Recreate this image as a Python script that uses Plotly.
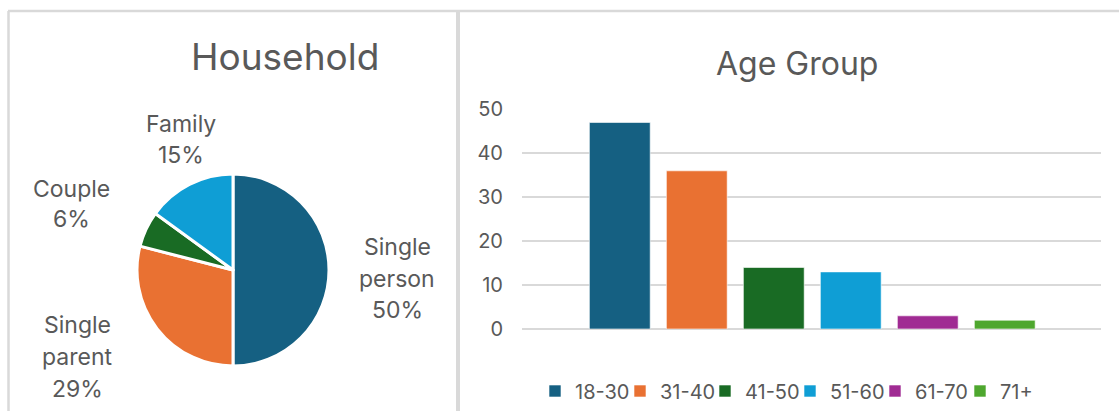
import plotly.graph_objects as go

# ---------------- data ----------------
household_labels = ["Single person", "Single parent", "Couple", "Family"]
household_values = [50, 29, 6, 15]

age_groups = ["18-30", "31-40", "41-50", "51-60", "61-70", "71+"]
age_counts = [47, 36, 14, 13, 3, 2]

y_ticks = [0, 10, 20, 30, 40, 50]

# ---------------- style ----------------
W, H = 1119, 411
pie_colors = ["#156082", "#E97132", "#196B24", "#0F9ED5"]
bar_colors = ["#156082", "#E97132", "#196B24", "#0F9ED5", "#A02B93", "#4EA72E"]
txt = "#595959"
grid = "#D9D9D9"
FONT = "Inter"


def px(x):
    return x / W


def py(y):
    return 1 - y / H


fig = go.Figure()

# pie (centre ~ (233, 270), radius ~96 px)
cx, cy, r = 233, 270, 96
fig.add_trace(go.Pie(
    labels=household_labels,
    values=household_values,
    sort=False,
    direction="clockwise",
    rotation=0,
    textinfo="none",
    automargin=False,
    marker=dict(colors=pie_colors, line=dict(color="white", width=3)),
    domain=dict(x=[px(cx - r), px(cx + r)], y=[py(cy + r), py(cy - r)]),
    showlegend=False,
    hoverinfo="label+percent",
))

# bars
for cat, val, col in zip(age_groups, age_counts, bar_colors):
    fig.add_trace(go.Bar(
        x=[cat], y=[val], name=cat, width=0.79,
        marker=dict(color=col, line=dict(color="white", width=0.6)),
        xaxis="x", yaxis="y",
    ))

# pie labels: positions (centre x, first baseline y, line spacing)
label_pos = {
    "Single person": (397, 255, 31.5),
    "Single parent": (77, 333, 31.8),
    "Couple": (71, 197, 30.5),
    "Family": (181, 132, 31.5),
}
total = sum(household_values)
annotations = []
for lab, val in zip(household_labels, household_values):
    pct = round(val / total * 100)
    lines = lab.split(" ") + [f"{pct}%"]
    x0, b0, sp = label_pos[lab]
    for i, line in enumerate(lines):
        annotations.append(dict(
            text=line, x=px(x0), y=py(b0 + i * sp - 8),
            xref="paper", yref="paper", xanchor="center", yanchor="middle",
            showarrow=False, font=dict(family=FONT, size=23, color=txt),
        ))

# titles
annotations.append(dict(
    text="Household", x=px(285), y=py(57), xref="paper", yref="paper",
    xanchor="center", yanchor="middle", showarrow=False,
    font=dict(family=FONT, size=37, color=txt),
))
annotations.append(dict(
    text="Age Group", x=px(797), y=py(63), xref="paper", yref="paper",
    xanchor="center", yanchor="middle", showarrow=False,
    font=dict(family=FONT, size=32, color=txt),
))

# panel borders
shapes = [
    dict(type="line", xref="paper", yref="paper", x0=px(8.5), x1=px(8.5), y0=py(11), y1=py(411),
         line=dict(color=grid, width=2.5)),
    dict(type="line", xref="paper", yref="paper", x0=px(8), x1=px(1119), y0=py(11), y1=py(11),
         line=dict(color=grid, width=2.5)),
    dict(type="line", xref="paper", yref="paper", x0=px(458), x1=px(458), y0=py(11), y1=py(411),
         line=dict(color=grid, width=4)),
]

fig.update_layout(
    template="none",
    width=W, height=H, autosize=False,
    margin=dict(l=0, r=0, t=0, b=0, pad=0, autoexpand=False),
    paper_bgcolor="white", plot_bgcolor="white",
    font=dict(family=FONT, color=txt),
    barmode="overlay",
    hovermode="closest",
    xaxis=dict(
        domain=[px(522), px(1101)],
        type="category",
        categoryorder="array", categoryarray=age_groups,
        range=[-1.27, 6.25],
        showticklabels=False, showgrid=False, zeroline=False, showline=False,
        ticks="", automargin=False,
    ),
    yaxis=dict(
        domain=[py(329), py(109.3)],
        range=[0, 50],
        tickvals=y_ticks,
        showgrid=True, gridcolor=grid, gridwidth=2,
        zeroline=True, zerolinecolor=grid, zerolinewidth=2,
        showline=False, ticks="", automargin=False,
        tickfont=dict(family=FONT, size=20, color=txt),
        ticklabelstandoff=18,
    ),
    legend=dict(
        orientation="h", x=px(790), xanchor="center", y=py(391), yanchor="middle",
        xref="container", yref="container",
        font=dict(family=FONT, size=20, color=txt),
        itemwidth=30, entrywidth=40,
        bgcolor="rgba(0,0,0,0)",
    ),
    annotations=annotations,
    shapes=shapes,
)

fig.write_html(
    "out.html",
    config={"displayModeBar": False, "responsive": False},
    post_script="document.body.style.margin='0';document.body.style.padding='0';"
                "document.documentElement.style.overflow='hidden';",
)
